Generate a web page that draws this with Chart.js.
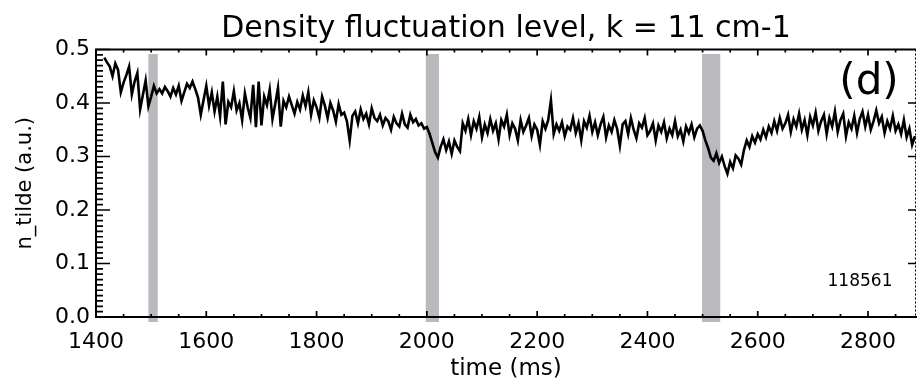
<!DOCTYPE html>
<html>
<head>
<meta charset="utf-8">
<title>Density fluctuation level</title>
<script src="https://cdn.jsdelivr.net/npm/chart.js@4"></script>
<style>
  html, body { margin: 0; padding: 0; background: #fff; }
  #wrap { width: 917px; height: 381px; }
</style>
</head>
<body>
<div id="wrap"><canvas id="chart" width="917" height="381"></canvas></div>
<script>
// signal sampled every 5 ms, first sample at 1415 ms
const tStart = 1415;
const tStep = 5;
const nTilde = [
  0.485, 0.476, 0.468, 0.450, 0.474, 0.462, 0.420, 0.438, 0.452, 0.468, 0.416, 0.440, 0.456, 0.388, 0.415, 0.442, 0.394, 0.412, 0.432, 0.418,
  0.426, 0.418, 0.430, 0.422, 0.412, 0.428, 0.416, 0.432, 0.404, 0.420, 0.436, 0.428, 0.440, 0.426, 0.410, 0.378, 0.405, 0.432, 0.395, 0.420,
  0.384, 0.412, 0.375, 0.440, 0.360, 0.402, 0.392, 0.422, 0.386, 0.400, 0.368, 0.418, 0.392, 0.372, 0.434, 0.355, 0.440, 0.358, 0.412, 0.396,
  0.425, 0.370, 0.398, 0.428, 0.356, 0.404, 0.392, 0.412, 0.396, 0.380, 0.402, 0.388, 0.414, 0.394, 0.420, 0.378, 0.405, 0.392, 0.372, 0.412,
  0.395, 0.372, 0.400, 0.386, 0.365, 0.398, 0.378, 0.382, 0.366, 0.330, 0.376, 0.384, 0.362, 0.388, 0.370, 0.380, 0.360, 0.390, 0.372, 0.366,
  0.378, 0.358, 0.372, 0.366, 0.350, 0.374, 0.362, 0.356, 0.380, 0.360, 0.354, 0.378, 0.364, 0.370, 0.358, 0.362, 0.352, 0.355, 0.342, 0.325,
  0.308, 0.298, 0.318, 0.332, 0.312, 0.328, 0.305, 0.330, 0.318, 0.310, 0.362, 0.348, 0.370, 0.340, 0.366, 0.352, 0.374, 0.336, 0.360, 0.344,
  0.370, 0.348, 0.362, 0.332, 0.368, 0.356, 0.378, 0.340, 0.362, 0.352, 0.330, 0.368, 0.346, 0.358, 0.372, 0.338, 0.360, 0.350, 0.322, 0.366,
  0.352, 0.368, 0.405, 0.342, 0.360, 0.348, 0.364, 0.338, 0.356, 0.350, 0.372, 0.344, 0.362, 0.330, 0.366, 0.354, 0.376, 0.346, 0.364, 0.340,
  0.360, 0.374, 0.336, 0.358, 0.346, 0.368, 0.352, 0.320, 0.360, 0.366, 0.342, 0.372, 0.350, 0.334, 0.362, 0.354, 0.372, 0.340, 0.348, 0.362,
  0.330, 0.358, 0.346, 0.364, 0.334, 0.352, 0.340, 0.366, 0.338, 0.350, 0.328, 0.356, 0.344, 0.360, 0.336, 0.352, 0.358, 0.348, 0.330, 0.316,
  0.298, 0.292, 0.306, 0.288, 0.300, 0.282, 0.268, 0.290, 0.278, 0.302, 0.296, 0.285, 0.312, 0.330, 0.318, 0.338, 0.326, 0.342, 0.332, 0.350,
  0.336, 0.356, 0.344, 0.366, 0.348, 0.372, 0.352, 0.362, 0.378, 0.346, 0.370, 0.356, 0.380, 0.350, 0.368, 0.340, 0.374, 0.358, 0.382, 0.348,
  0.366, 0.378, 0.342, 0.372, 0.356, 0.384, 0.346, 0.368, 0.380, 0.338, 0.364, 0.352, 0.376, 0.344, 0.370, 0.384, 0.356, 0.378, 0.350, 0.366,
  0.386, 0.362, 0.374, 0.344, 0.366, 0.352, 0.376, 0.348, 0.360, 0.342, 0.368, 0.336, 0.352, 0.322, 0.338
];

// grey time windows (ms)
const bandStarts = [1495, 1998, 2499];
const bandEnds = [1512, 2022, 2532];

const xTickValues = [1400, 1600, 1800, 2000, 2200, 2400, 2600, 2800];
const yTickValues = [0.0, 0.1, 0.2, 0.3, 0.4, 0.5];
const xMin = 1400, xMax = 2887;
const yMin = 0, yMax = 0.5;

const titleText = 'Density fluctuation level, k = 11 cm-1';
const panelLabel = '(d)';
const shotLabel = '118561';

Chart.defaults.font.family = "'DejaVu Sans', sans-serif";
Chart.defaults.color = '#000';

const points = nTilde.map((v, i) => ({ x: tStart + i * tStep, y: v }));

// IDL style frame: inward ticks, top and right axes, grey bands, labels
const frame = {
  id: 'frame',
  beforeDraw(chart) {
    const { ctx, chartArea: a, scales: { x } } = chart;
    ctx.save();
    ctx.fillStyle = '#b9b9be';
    bandStarts.forEach((s, i) => {
      const x0 = x.getPixelForValue(s);
      const x1 = x.getPixelForValue(bandEnds[i]);
      ctx.fillRect(x0, a.top + 4.5, x1 - x0, a.bottom - a.top + 0.5);
    });
    ctx.restore();
  },
  afterDraw(chart) {
    const { ctx, chartArea: a, scales: { x, y } } = chart;
    ctx.save();
    ctx.strokeStyle = '#000';

    // top axis
    ctx.lineWidth = 2;
    ctx.beginPath();
    ctx.moveTo(a.left - 1, a.top);
    ctx.lineTo(a.right, a.top);
    ctx.stroke();

    // right axis, dotted
    ctx.lineWidth = 1;
    ctx.setLineDash([2, 2]);
    ctx.beginPath();
    ctx.moveTo(a.right - 0.5, a.top);
    ctx.lineTo(a.right - 0.5, a.bottom);
    ctx.stroke();
    ctx.setLineDash([]);

    // left ticks: majors + dense minors
    ctx.lineWidth = 1.7;
    ctx.beginPath();
    for (let k = 0; k <= 50; k++) {
      const py = y.getPixelForValue(k / 100);
      const len = k % 10 === 0 ? 14 : 7;
      ctx.moveTo(a.left, py);
      ctx.lineTo(a.left + len, py);
    }
    // right ticks
    yTickValues.slice(1, -1).forEach(v => {
      const py = y.getPixelForValue(v);
      ctx.moveTo(a.right, py);
      ctx.lineTo(a.right - 8, py);
    });
    // bottom / top ticks
    for (let t = xMin; t <= xMax; t += 50) {
      const px = x.getPixelForValue(t);
      const len = xTickValues.includes(t) ? 6 : 3;
      ctx.moveTo(px, a.bottom);
      ctx.lineTo(px, a.bottom - len);
      ctx.moveTo(px, a.top);
      ctx.lineTo(px, a.top + len);
    }
    ctx.stroke();

    // panel annotations
    ctx.fillStyle = '#000';
    ctx.textAlign = 'center';
    ctx.textBaseline = 'middle';
    ctx.font = "42px 'DejaVu Sans', sans-serif";
    ctx.fillText(panelLabel, a.right - 47, a.top + 34);
    ctx.font = "17px 'DejaVu Sans', sans-serif";
    ctx.fillText(shotLabel, a.right - 56, a.bottom - 35);
    ctx.restore();
  }
};

new Chart(document.getElementById('chart'), {
  type: 'line',
  data: {
    datasets: [{
      data: points,
      borderColor: '#000',
      borderWidth: 2.6,
      pointRadius: 0,
      tension: 0,
      fill: false
    }]
  },
  options: {
    responsive: false,
    animation: false,
    events: [],
    layout: { padding: { left: 0, right: 1, top: 0, bottom: 0 } },
    plugins: {
      legend: { display: false },
      tooltip: { enabled: false },
      title: {
        display: true,
        fullSize: false,
        text: titleText,
        font: { size: 30, weight: 'normal' },
        color: '#000',
        padding: { top: 11, bottom: 2.5 }
      }
    },
    scales: {
      x: {
        type: 'linear',
        min: xMin,
        max: xMax,
        afterFit(s) { s.height = 64; },
        afterBuildTicks(s) { s.ticks = xTickValues.map(v => ({ value: v })); },
        grid: { display: false, drawTicks: false },
        border: { display: true, color: '#000', width: 2 },
        ticks: {
          font: { size: 22 },
          padding: 12,
          maxRotation: 0,
          autoSkip: false,
          includeBounds: false,
          callback: v => String(v)
        },
        title: {
          display: true,
          text: 'time (ms)',
          font: { size: 23, lineHeight: 1 },
          padding: { top: 0, bottom: 0 }
        }
      },
      y: {
        type: 'linear',
        min: yMin,
        max: yMax,
        afterFit(s) { s.width = 96; },
        afterBuildTicks(s) { s.ticks = yTickValues.map(v => ({ value: v })); },
        grid: { display: false, drawTicks: false },
        border: { display: true, color: '#000', width: 2 },
        ticks: {
          font: { size: 22 },
          padding: 6,
          autoSkip: false,
          callback: v => v.toFixed(1)
        },
        title: {
          display: true,
          text: 'n_tilde (a.u.)',
          font: { size: 21 },
          padding: { top: 13, bottom: 0 }
        }
      }
    }
  },
  plugins: [frame]
});
</script>
</body>
</html>
